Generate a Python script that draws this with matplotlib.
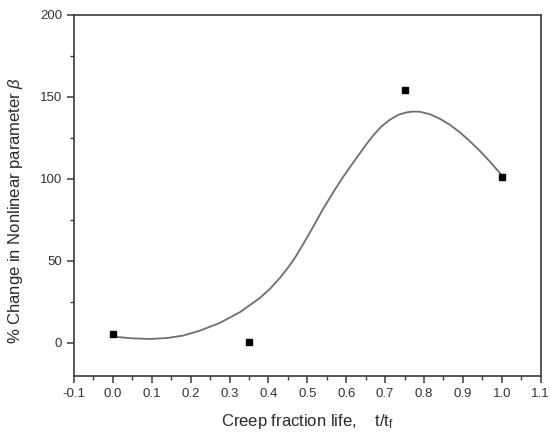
import numpy as np
import matplotlib as mpl
mpl.use('Agg')
import matplotlib.pyplot as plt
from matplotlib.ticker import MultipleLocator

plt.rcParams['font.family'] = ['Liberation Sans', 'DejaVu Sans']
plt.rcParams['mathtext.fontset'] = 'custom'
plt.rcParams['mathtext.rm'] = 'Liberation Sans'
plt.rcParams['mathtext.it'] = 'Liberation Sans:italic'

# measured points
life = [0.0, 0.35, 0.75, 1.0]
change = [5.7, 0.4, 154.4, 101.2]

# fitted curve
curve_x = [0.005, 0.05, 0.095, 0.14, 0.181, 0.224, 0.275, 0.327, 0.378,
           0.405, 0.430, 0.450, 0.468, 0.490, 0.515, 0.540, 0.567, 0.590,
           0.610, 0.635, 0.652, 0.669, 0.690, 0.712, 0.735, 0.755, 0.772,
           0.789, 0.815, 0.840, 0.867, 0.893, 0.918, 0.945, 0.969, 0.999]
curve_y = [3.7, 2.8, 2.4, 3.0, 4.5, 7.5, 12.2, 18.8, 27.4,
           33.2, 39.8, 45.8, 51.8, 60.5, 70.8, 81.5, 92.0, 100.5,
           107.3, 115.6, 121.2, 126.4, 131.9, 136.1, 139.2, 140.6, 141.1,
           141.0, 139.5, 136.8, 133.0, 128.3, 123.0, 116.8, 110.7, 102.6]

fig = plt.figure(figsize=(5.5, 4.38), dpi=100)
ax = fig.add_axes([0.1345, 0.1422, 0.8485, 0.8236])

ax.plot(curve_x, curve_y, color='#6e6e6e', lw=1.3)
ax.plot(life, change, 's', color='black', markersize=5)

ax.set_xlim(-0.1, 1.1)
ax.set_ylim(-20, 200)
ax.xaxis.set_major_locator(MultipleLocator(0.1))
ax.xaxis.set_minor_locator(MultipleLocator(0.05))
ax.yaxis.set_major_locator(MultipleLocator(50))
ax.yaxis.set_minor_locator(MultipleLocator(25))
ax.set_xticklabels(['%.1f' % v for v in ax.get_xticks()])

for s in ax.spines.values():
    s.set_color('#3a3a3a')
    s.set_linewidth(1.2)
ax.tick_params(which='major', length=5, width=1.1, color='#3a3a3a',
               labelsize=9.5, labelcolor='#333333', direction='out')
ax.tick_params(which='minor', length=3, width=1.0, color='#3a3a3a', direction='out')
ax.tick_params(top=False, right=False, which='both')

ax.set_xlabel(r'Creep fraction life,    t/t$_\mathrm{f}$', fontsize=12, color='#2a2a2a')
ax.set_ylabel(r'% Change in Nonlinear parameter $\mathit{\beta}$', fontsize=12, color='#2a2a2a')
ax.xaxis.set_label_coords(0.5, -0.1)
ax.yaxis.set_label_coords(-0.105, 0.457)

plt.savefig('out.png', dpi=100)
